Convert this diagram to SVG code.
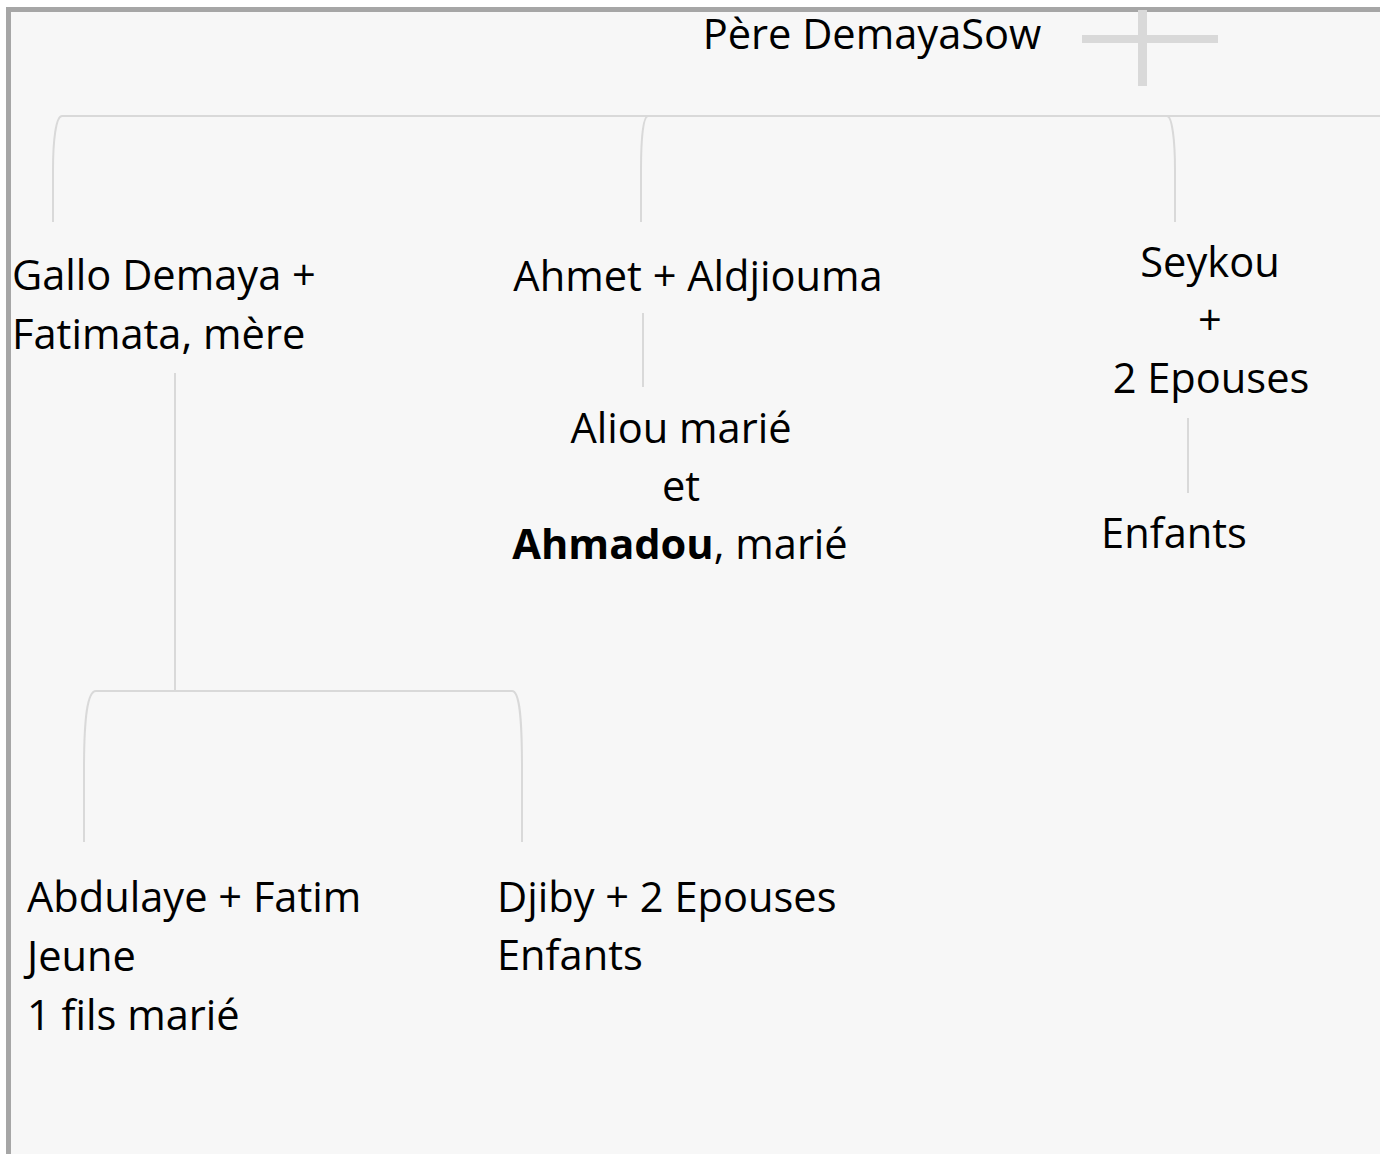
<svg xmlns="http://www.w3.org/2000/svg" width="1380" height="1154" viewBox="0 0 1380 1154">
  <style>
    .t { font-family: "Open Sans", "Liberation Sans", sans-serif; font-size: 41.6px; fill: #000; }
    .c { text-anchor: middle; }
    .b { font-weight: bold; }
    .ln { fill: none; stroke: #d9d9d9; stroke-width: 2; }
  </style>
  <rect x="0" y="0" width="1380" height="1154" fill="#ffffff"/>
  <rect x="8.5" y="9.5" width="1380" height="1160" fill="#f7f7f7" stroke="#a6a6a6" stroke-width="5"/>
  <g id="plus" fill="#d9d9d9">
    <rect x="1082" y="35" width="136" height="8"/>
    <rect x="1138" y="10" width="9" height="76"/>
  </g>
  <g id="connectors" class="ln">
    <path class="ln" d="M62,116 L1380,116"/>
    <path class="ln" d="M62,116 C56,116 53,140 53,170 L53,222"/>
    <path class="ln" d="M648,116 C643,116 641,140 641,170 L641,222"/>
    <path class="ln" d="M1167,116 C1172,116 1175,140 1175,170 L1175,222"/>
    <path class="ln" d="M643,313 L643,387"/>
    <path class="ln" d="M1188,418 L1188,493"/>
    <path class="ln" d="M175,373 L175,691"/>
    <path class="ln" d="M96,691 L512,691"/>
    <path class="ln" d="M96,691 C87,691 84,720 84,770 L84,842"/>
    <path class="ln" d="M512,691 C520,691 522,720 522,770 L522,842"/>
  </g>
  <g id="pere">
    <text class="t c" x="872" y="49">Père DemayaSow</text>
  </g>
  <g id="gallo">
    <text class="t" x="12" y="290">Gallo Demaya +</text>
    <text class="t" x="12" y="349">Fatimata, mère</text>
  </g>
  <g id="ahmet">
    <text class="t c" x="698" y="291">Ahmet + Aldjiouma</text>
  </g>
  <g id="aliou">
    <text class="t c" x="681" y="443">Aliou marié</text>
    <text class="t c" x="681" y="501">et</text>
    <text class="t c" x="680" y="559"><tspan class="b">Ahmadou</tspan>, marié</text>
  </g>
  <g id="seykou">
    <text class="t c" x="1210" y="277">Seykou</text>
    <text class="t c" x="1210" y="335">+</text>
    <text class="t c" x="1211" y="393">2 Epouses</text>
  </g>
  <g id="seykou-enfants">
    <text class="t c" x="1174" y="548">Enfants</text>
  </g>
  <g id="abdulaye">
    <text class="t" x="27" y="912">Abdulaye + Fatim</text>
    <text class="t" x="27" y="971">Jeune</text>
    <text class="t" x="27" y="1030">1 fils marié</text>
  </g>
  <g id="djiby">
    <text class="t" x="497" y="912">Djiby + 2 Epouses</text>
    <text class="t" x="497" y="970">Enfants</text>
  </g>
</svg>
